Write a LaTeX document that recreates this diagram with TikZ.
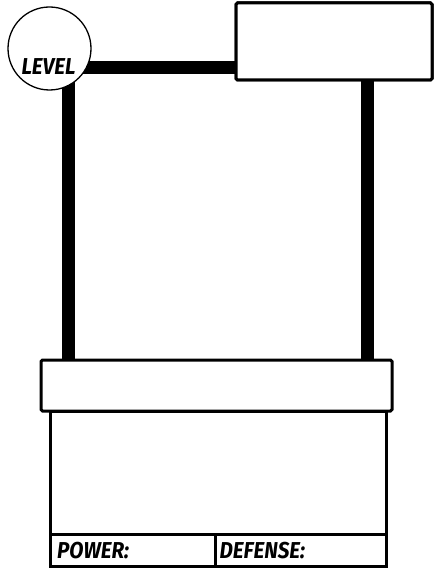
\documentclass[tikz,border=0pt]{standalone}
\usepackage{fontspec}
\newfontfamily\cardfont[FakeStretch=0.9,UprightFont=*-Bold Italic]{Fira Sans}
\begin{document}
\begin{tikzpicture}[x=1pt,y=-1pt,
  box/.style={draw=black,fill=white,line width=3pt,rounded corners=1.5pt,inner sep=0pt,outer sep=0pt},
  frame/.style={line width=13pt,line cap=butt,draw=black},
  thin/.style={line width=3pt,draw=black},
  cardtext/.style={font=\cardfont\fontsize{23}{23}\selectfont,inner sep=0pt},
  lbl/.style={cardtext,anchor=west}]
\useasboundingbox (0,0) rectangle (435,575);
% frame coordinates
\coordinate (tl) at (68.5,67.5);
\coordinate (tr) at (367,0);
\coordinate (dv) at (215,0);
% lower body
\node[box,rounded corners=0pt,minimum width=336pt,minimum height=155pt] (body) at (218,488.5) {};
\node[box,minimum width=351pt,minimum height=51pt] (band) at (216.5,385.5) {};
\node[box,minimum width=196pt,minimum height=77pt] (title) at (334,41.5) {};
% thick frame
\draw[frame] (band.north -| tl) -- (tl) -- (tl -| title.west);
\draw[frame] (title.south -| tr) -- (band.north -| tr);
% redraw title on top
\node[box,minimum width=196pt,minimum height=77pt] (title2) at (334,41.5) {};
% level circle
\node[circle,draw=black,fill=white,line width=1.3pt,minimum size=83pt,inner sep=0pt] (level) at (49.5,48.5) {};
\node[cardtext] (leveltxt) at (48.5,66.5) {LEVEL};
% stats row
\coordinate (sep) at (0,534.5);
\draw[thin] (body.west |- sep) -- (body.east |- sep);
\draw[thin] (dv |- sep) -- (dv |- body.south);
\node[lbl] (power) at (57,551) {POWER:};
\node[lbl] (defense) at (219.5,551) {DEFENSE:};
\end{tikzpicture}
\end{document}
